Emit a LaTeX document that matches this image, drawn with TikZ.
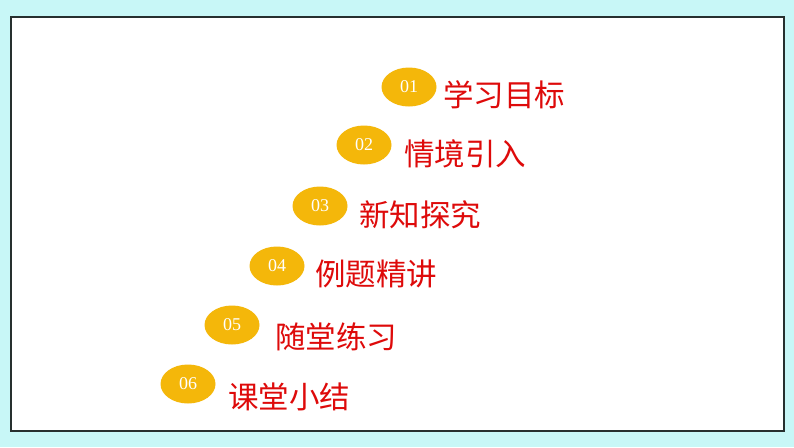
\documentclass[tikz,border=0pt]{standalone}
\usepackage{fontspec}
\usetikzlibrary{shapes.geometric}
\newfontfamily\cjk{Noto Sans CJK SC}
\newfontfamily\numfont{Liberation Serif}
\definecolor{bgcyan}{HTML}{C8F7F7}
\definecolor{framecol}{HTML}{26302F}
\definecolor{dotyellow}{HTML}{F4B70A}
\definecolor{labred}{HTML}{DE0A0A}
\begin{document}
\begin{tikzpicture}[x=1pt,y=-1pt,
  dot/.style={ellipse,fill=dotyellow,minimum width=55pt,minimum height=39pt,inner sep=0pt,
     font=\numfont\fontsize{18}{18}\selectfont,text=white},
  lab/.style={anchor=west,inner sep=0pt,font=\cjk\fontsize{30.5}{30.5}\selectfont,text=labred}]
\useasboundingbox (0,0) rectangle (794,447);
\fill[bgcyan] (0,0) rectangle (794,447);
\node[draw=framecol,line width=1.5pt,fill=white,minimum width=773pt,minimum height=414pt,inner sep=0pt,anchor=north west] (frame) at (10,16) {};
\node[dot] (d1) at (409,87) {01};
\node[lab] (t1) at (443,95) {学习目标};
\node[dot] (d2) at (364,145) {02};
\node[lab] (t2) at (404,154) {情境引入};
\node[dot] (d3) at (320,206) {03};
\node[lab] (t3) at (359,215) {新知探究};
\node[dot] (d4) at (277,266) {04};
\node[lab] (t4) at (315,274) {例题精讲};
\node[dot] (d5) at (232,325) {05};
\node[lab] (t5) at (275,337) {随堂练习};
\node[dot] (d6) at (188,384) {06};
\node[lab] (t6) at (228,397) {课堂小结};
\end{tikzpicture}
\end{document}
